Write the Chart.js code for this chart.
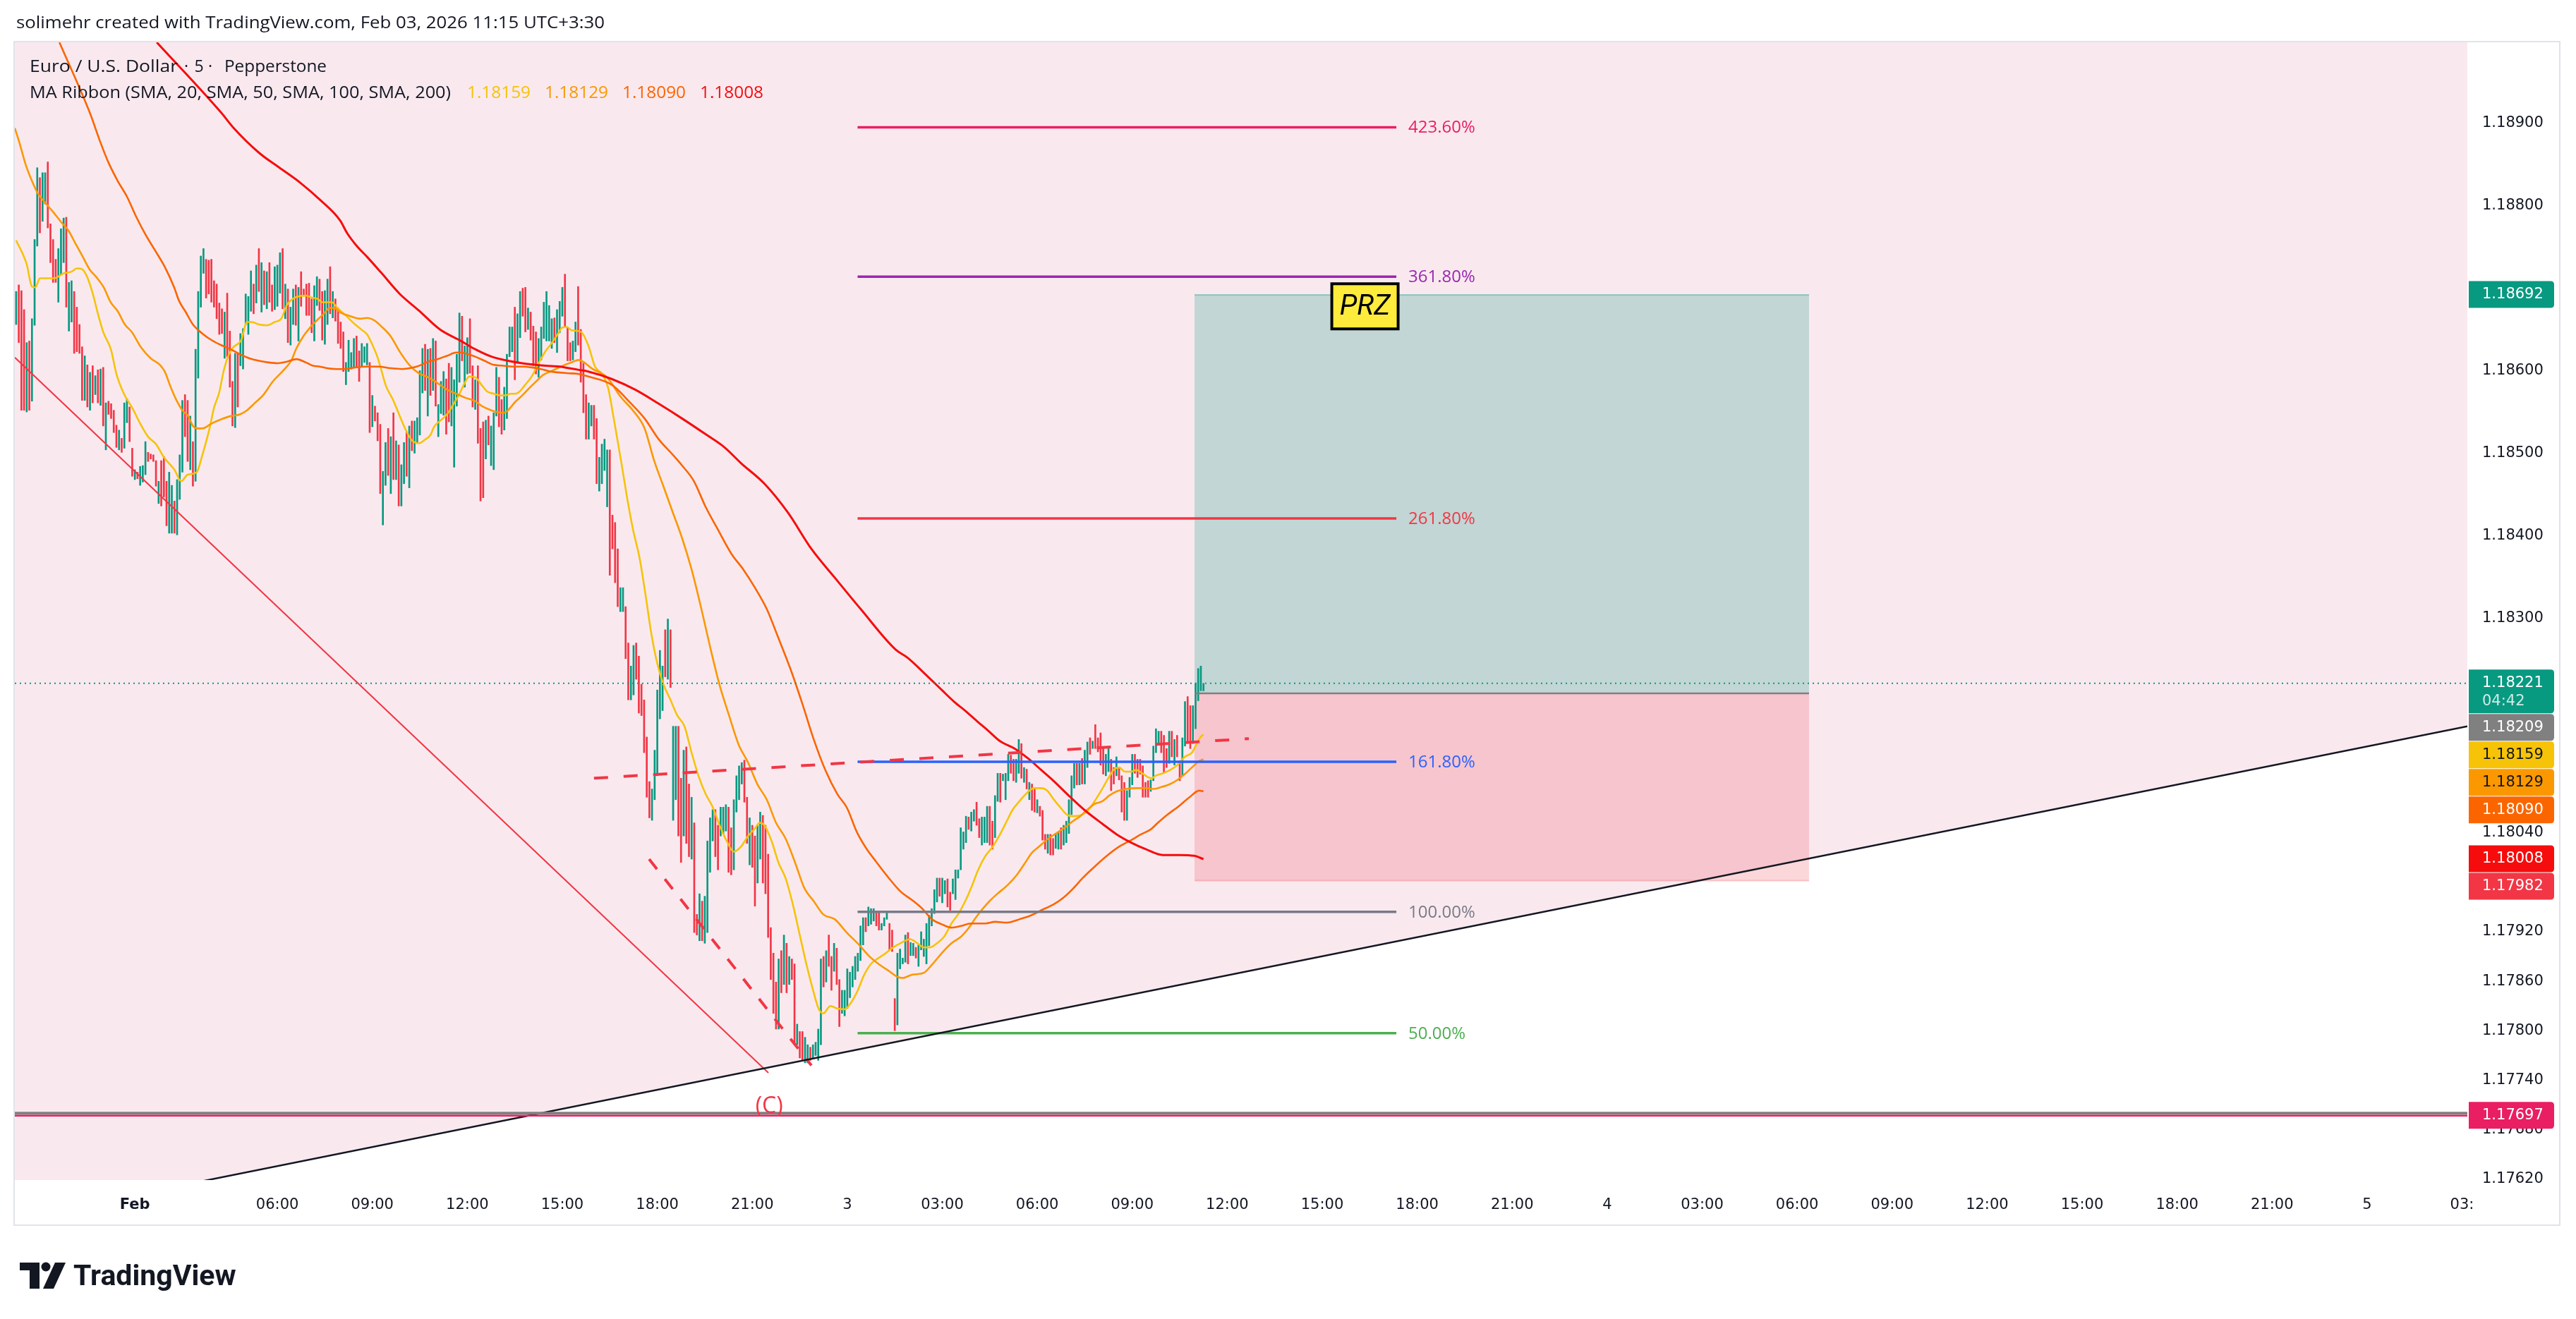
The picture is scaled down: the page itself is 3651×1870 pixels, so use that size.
<!DOCTYPE html>
<html><head><meta charset="utf-8">
<script src="https://cdn.jsdelivr.net/npm/chart.js@4.4.1/dist/chart.umd.min.js"></script>
<style>html,body{margin:0;padding:0;background:#fff;}canvas{display:block;}</style>
</head><body>
<canvas id="c" width="3651" height="1870" style="width:3651px;height:1870px"></canvas>
<script>
// ---------- DATA ----------
const candleStartBar = -45; // bar index of first candle (bar 0 = "Feb" label)
const candleOpen = [
1.18656,1.18704,1.18697,1.18674,1.18550,1.18636,1.18563,1.18655,1.18751,1.18834,
1.18781,1.18802,1.18853,1.18778,1.18759,1.18735,1.18683,1.18716,1.18731,1.18786,
1.18648,1.18659,1.18696,1.18677,1.18656,1.18629,1.18564,1.18607,1.18552,1.18606,
1.18571,1.18601,1.18558,1.18604,1.18504,1.18563,1.18560,1.18552,1.18534,1.18504,
1.18518,1.18506,1.18537,1.18556,1.18506,1.18468,1.18477,1.18461,1.18465,1.18474,
1.18501,1.18499,1.18498,1.18491,1.18439,1.18491,1.18496,1.18466,1.18403,1.18403,
1.18442,1.18401,1.18444,1.18477,1.18571,1.18564,1.18480,1.18514,1.18466,1.18591,
1.18677,1.18718,1.18735,1.18734,1.18735,1.18709,1.18705,1.18682,1.18675,1.18615,
1.18694,1.18648,1.18587,1.18531,1.18621,1.18606,1.18602,1.18656,1.18644,1.18672,
1.18705,1.18682,1.18748,1.18671,1.18721,1.18675,1.18731,1.18704,1.18674,1.18678,
1.18694,1.18748,1.18663,1.18699,1.18631,1.18656,1.18704,1.18636,1.18720,1.18699,
1.18705,
1.18706,1.18687,1.18636,1.18679,1.18711,1.18696,1.18632,1.18656,1.18726,1.18664,
1.18687,1.18676,1.18659,1.18647,1.18583,1.18599,1.18602,1.18605,1.18642,1.18624,
1.18605,1.18610,1.18607,1.18610,1.18532,1.18557,1.18549,1.18535,1.18413,1.18461,
1.18530,1.18451,1.18549,1.18468,1.18510,1.18436,1.18463,1.18526,1.18458,1.18539,
1.18500,1.18513,1.18522,1.18573,1.18632,1.18545,1.18627,1.18576,1.18636,1.18520,
1.18548,1.18546,1.18590,1.18609,1.18533,1.18483,1.18557,1.18586,1.18666,1.18580,
1.18596,1.18663,1.18606,1.18553,1.18606,1.18530,1.18538,1.18493,1.18545,1.18485,
1.18480,1.18545,1.18592,1.18565,1.18528,1.18542,1.18617,1.18623,1.18677,1.18610,
1.18640,1.18700,1.18701,1.18650,1.18671,1.18654,1.18647,1.18592,1.18613,1.18639,
1.18636,1.18636,1.18627,1.18664,1.18622,1.18646,1.18666,1.18717,1.18652,1.18634,
1.18613,1.18623,
1.18702,1.18650,1.18609,1.18571,1.18517,1.18533,1.18558,1.18542,1.18454,1.18463,
1.18479,1.18435,1.18504,1.18425,1.18416,1.18384,1.18308,1.18308,1.18314,1.18270,
1.18201,1.18207,1.18270,1.18254,1.18220,1.18201,1.18156,1.18102,1.18055,1.18080,
1.18109,1.18178,1.18188,1.18286,1.18226,1.18286,1.18055,1.18080,1.18169,1.18106,
1.18036,1.18144,1.18099,1.18008,1.18052,1.17941,1.17909,1.17957,1.17906,1.17919,
1.17992,1.18030,1.18068,1.18049,1.18036,1.18039,1.18042,1.18071,1.18046,1.17995,
1.18065,1.18080,1.18099,1.18128,1.18083,1.18001,1.18049,1.18036,1.17979,1.18008,
1.18061,1.18049,1.18014,1.17925,1.17894,1.17859,1.17802,1.17897,1.17856,1.17906,
1.17856,1.17887,1.17881,1.17783,1.17799,1.17799,1.17761,1.17761,1.17780,1.17767,
1.17770,1.17764,1.17783,1.17890,1.17859,1.17916,1.17890,1.17872,1.17900,1.17862,
1.17821,1.17818,1.17827,1.17840,1.17853,1.17862,1.17872,
1.17885,1.17904,1.17937,1.17927,1.17929,1.17933,1.17943,1.17943,1.17922,1.17927,
1.17935,1.17930,1.17922,1.17839,1.17807,1.17875,1.17881,1.17883,1.17919,1.17891,
1.17891,1.17901,1.17878,1.17898,1.17890,1.17881,1.17903,1.17927,1.17942,1.17956,
1.17985,1.17955,1.17966,1.17984,1.17968,1.17966,1.17959,1.17985,1.17995,1.18020,
1.18028,1.18059,1.18042,1.18054,1.18077,1.18057,1.18025,1.18028,1.18028,1.18072,
1.18054,1.18034,1.18078,1.18112,1.18103,1.18080,1.18103,1.18134,1.18129,1.18101,
1.18112,1.18148,1.18101,1.18117,1.18080,1.18099,1.18093,1.18064,1.18072,1.18067,
1.18038,1.18015,1.18038,1.18033,1.18021,1.18020,1.18046,1.18025,1.18028,1.18039,
1.18062,1.18094,1.18124,1.18098,1.18130,1.18099,1.18119,1.18155,1.18142,1.18171,
1.18155,1.18161,1.18143,1.18109,1.18114,1.18129,1.18119,1.18109,1.18119,1.18109,
1.18101,1.18055,1.18083,1.18098,1.18135,1.18129,1.18129,1.18121,1.18101,1.18103,
1.18090,1.18103,1.18137,1.18147,1.18163,1.18158,1.18142,1.18124,1.18163,1.18122,
1.18158,1.18127,1.18109,1.18145,1.18205,1.18194,1.18148,1.18166,1.18200,1.18212,
1.18212];
const candleClose = [
1.18696,1.18634,1.18552,1.18552,1.18634,1.18552,1.18663,1.18759,1.18846,1.18767,
1.18840,1.18840,1.18773,1.18731,1.18707,1.18707,1.18748,1.18772,1.18785,1.18677,
1.18707,1.18709,1.18621,1.18623,1.18621,1.18564,1.18618,1.18556,1.18598,1.18561,
1.18594,1.18561,1.18602,1.18533,1.18561,1.18547,1.18542,1.18525,1.18507,1.18528,
1.18501,1.18561,1.18566,1.18514,1.18472,1.18480,1.18469,1.18484,1.18485,1.18514,
1.18490,1.18493,1.18490,1.18460,1.18466,1.18436,1.18447,1.18412,1.18477,1.18461,
1.18403,1.18468,1.18498,1.18564,1.18520,1.18490,1.18545,1.18460,1.18626,1.18696,
1.18739,1.18748,1.18688,1.18693,1.18683,1.18677,1.18663,1.18644,1.18645,1.18671,
1.18617,1.18580,1.18533,1.18621,1.18556,1.18645,1.18651,1.18693,1.18690,1.18721,
1.18669,1.18728,1.18696,1.18731,1.18680,1.18720,1.18683,1.18672,1.18726,1.18728,
1.18743,1.18675,1.18705,1.18634,1.18677,1.18699,1.18655,1.18701,1.18678,1.18691,
1.18667,
1.18667,1.18646,1.18703,1.18714,1.18673,1.18637,1.18697,1.18711,1.18669,1.18696,
1.18660,1.18633,1.18627,1.18599,1.18610,1.18637,1.18622,1.18639,1.18605,1.18587,
1.18633,1.18629,1.18633,1.18525,1.18570,1.18539,1.18515,1.18451,1.18478,1.18513,
1.18473,1.18520,1.18468,1.18515,1.18436,1.18486,1.18513,1.18472,1.18533,1.18503,
1.18539,1.18543,1.18600,1.18627,1.18576,1.18626,1.18570,1.18639,1.18557,1.18559,
1.18587,1.18599,1.18523,1.18538,1.18604,1.18589,1.18620,1.18670,1.18612,1.18630,
1.18640,1.18597,1.18556,1.18589,1.18512,1.18442,1.18446,1.18540,1.18510,1.18533,
1.18549,1.18604,1.18532,1.18523,1.18580,1.18620,1.18653,1.18653,1.18589,1.18669,
1.18696,1.18666,1.18647,1.18676,1.18637,1.18606,1.18596,1.18639,1.18653,1.18683,
1.18696,1.18679,1.18663,1.18634,1.18674,1.18684,1.18701,1.18653,1.18612,1.18612,
1.18636,1.18659,
1.18631,1.18586,1.18549,1.18517,1.18561,1.18558,1.18517,1.18463,1.18495,1.18511,
1.18517,1.18504,1.18352,1.18384,1.18343,1.18314,1.18337,1.18337,1.18251,1.18201,
1.18242,1.18267,1.18226,1.18185,1.18182,1.18137,1.18083,1.18058,1.18093,1.18140,
1.18213,1.18261,1.18242,1.18229,1.18299,1.18216,1.18169,1.18169,1.18036,1.18004,
1.18140,1.18027,1.18011,1.18083,1.17919,1.17916,1.17966,1.17909,1.17963,1.18030,
1.18058,1.18068,1.18011,1.17995,1.18071,1.18071,1.18074,1.17992,1.17989,1.18080,
1.18109,1.18121,1.18125,1.18077,1.18027,1.18058,1.17998,1.17951,1.18049,1.18065,
1.17979,1.17966,1.17913,1.17862,1.17821,1.17802,1.17887,1.17846,1.17916,1.17846,
1.17890,1.17862,1.17783,1.17808,1.17767,1.17764,1.17792,1.17783,1.17764,1.17783,
1.17786,1.17802,1.17887,1.17853,1.17897,1.17878,1.17849,1.17906,1.17856,1.17805,
1.17849,1.17849,1.17875,1.17871,1.17878,1.17890,1.17894,
1.17927,1.17937,1.17920,1.17950,1.17948,1.17948,1.17927,1.17922,1.17930,1.17937,
1.17943,1.17898,1.17896,1.17800,1.17894,1.17899,1.17888,1.17916,1.17881,1.17907,
1.17906,1.17888,1.17904,1.17920,1.17911,1.17930,1.17940,1.17948,1.17971,1.17985,
1.17963,1.17985,1.17982,1.17950,1.17946,1.17984,1.17995,1.17995,1.18046,1.18041,
1.18060,1.18044,1.18065,1.18068,1.18049,1.18034,1.18059,1.18059,1.18072,1.18025,
1.18020,1.18085,1.18112,1.18077,1.18111,1.18112,1.18135,1.18112,1.18103,1.18129,
1.18153,1.18106,1.18119,1.18093,1.18101,1.18067,1.18065,1.18080,1.18060,1.18031,
1.18020,1.18038,1.18013,1.18013,1.18039,1.18041,1.18020,1.18049,1.18054,1.18080,
1.18109,1.18124,1.18098,1.18124,1.18099,1.18140,1.18150,1.18135,1.18151,1.18142,
1.18138,1.18122,1.18111,1.18135,1.18142,1.18091,1.18099,1.18132,1.18104,1.18065,
1.18055,1.18091,1.18107,1.18135,1.18112,1.18107,1.18111,1.18083,1.18083,1.18083,
1.18104,1.18145,1.18166,1.18163,1.18137,1.18112,1.18119,1.18163,1.18132,1.18153,
1.18132,1.18103,1.18155,1.18199,1.18150,1.18142,1.18194,1.18221,1.18239,1.18242,
1.18221];

// MA Ribbon (SMA 20 / 50 / 100 / 200) read at bar positions
const sma20Bars = [-45,-41,-39,-37.7,-36,-30.6,-27,-24,-22,-20,-18,-16,-14,-12,-9,-7,-4,-1,2,5,8,11,15,17.6,20,23.4,25.6,28.3,30,32,33.6,35.4,37.2,40.3,42.5,44.3,47,50,53,55.5,57.7,61,65,
66.6,69.3,71,74.6,76.8,79.9,83.5,86.2,88,89.8,92,93.3,95.1,97.8,100.4,102.7,104.9,107.6,109.8,112,113.4,115.6,118.3,120.1,122.7,125,126.7,129,131.6,133.4,136.1,138.8,140.5,142.3,144.1,145.9,147.7,150.4,153,155.7,157.9,160.2,161.9,163.7,165.5,
169.1,171.8,174.4,177.1,179.3,181.5,184.2,186.5,188.7,191.4,193.6,195.8,198,200.3,203,205.6,208.3,211,213.6,216.3,219,221.6,224.3,227,229.7,232.4,235,236.8,238.6,241.3,243.9,246.6,249.3,252,254.7,257.3,259.1,260.9,263.6,266.2,
269,271.2,274,276.3,279,281.8,284.6,287.4,290.1,293.8,296.6,298.9,301.2,304,306.7,309.5,312.2,315,317.3,319.6,322.4,325.1,327.9,330.6,332.5,335.2,338,340.8,343.5,345.8,348.1,350.9,353.2,355.5,358.3,360.1,362,364.3,366.6,368.9,371.2,373,375.3,377.6,379.5,381.8,384.1,385.4,386.8,389.6,392.4,395.1,397.9,400.6,402.5,403.9,405];
const sma20Vals = [1.18758,1.18729,1.18702,1.18701,1.18712,1.18712,1.18718,1.18720,1.18724,1.18723,1.18713,1.18694,1.18669,1.18647,1.18625,1.18596,1.18571,1.18555,1.18536,1.18520,1.18511,1.18495,1.18480,1.18466,1.18474,1.18477,1.18498,1.18530,1.18555,1.18574,1.18599,1.18618,1.18628,1.18637,1.18659,1.18659,1.18656,1.18655,1.18659,1.18663,1.18680,1.18689,1.18691,
1.18689,1.18687,1.18683,1.18683,1.18676,1.18667,1.18656,1.18649,1.18644,1.18633,1.18616,1.18602,1.18582,1.18565,1.18545,1.18528,1.18516,1.18512,1.18516,1.18522,1.18532,1.18539,1.18547,1.18556,1.18570,1.18585,1.18593,1.18592,1.18582,1.18575,1.18572,1.18570,1.18570,1.18572,1.18572,1.18575,1.18582,1.18593,1.18609,1.18624,1.18633,1.18644,1.18652,1.18653,1.18649,
1.18647,1.18631,1.18605,1.18596,1.18580,1.18542,1.18492,1.18447,1.18409,1.18371,1.18327,1.18280,1.18245,1.18220,1.18201,1.18182,1.18169,1.18137,1.18109,1.18087,1.18071,1.18049,1.18030,1.18017,1.18023,1.18036,1.18045,1.18052,1.18049,1.18030,1.18004,1.17985,1.17954,1.17916,1.17878,1.17846,1.17827,1.17821,1.17830,1.17827,
1.17826,1.17833,1.17849,1.17867,1.17881,1.17888,1.17894,1.17901,1.17906,1.17911,1.17906,1.17901,1.17901,1.17906,1.17914,1.17930,1.17942,1.17959,1.17976,1.17995,1.18012,1.18023,1.18038,1.18055,1.18067,1.18078,1.18088,1.18094,1.18094,1.18091,1.18081,1.18070,1.18062,1.18060,1.18061,1.18064,1.18070,1.18081,1.18093,1.18106,1.18117,1.18119,1.18114,1.18114,1.18116,1.18112,1.18107,1.18106,1.18109,1.18112,1.18116,1.18122,1.18132,1.18137,1.18148,1.18156,1.18159];

const sma50Bars = [-45.5,-43.9,-41.3,-39,-36.8,-34.1,-31.4,-27.9,-25.2,-22.5,-19.9,-17.2,-14.5,-11.8,-9.2,-6.5,-3.8,-1.2,2.4,6,9.5,11.3,13.6,15.8,18,20.2,22,23.8,25.6,29.1,32.7,36.3,39.8,42.5,45.2,48.8,52.3,55.9,59.4,61.2,63.9,66.6,69.3,71.9,73.7,75.5,78.2,81.7,85.3,88,90.7,93.3,96.9,100.4,104,107.6,111.1,114.7,118.3,121.8,125.4,129,131.6,134.3,137,139.7,141.4,144.1,146.8,149.5,152.1,154.8,157.5,160.2,162.9,165.5,168.2,173.5,178.9,184.2,188.7,193.2,196.7,200.3,203.9,207.4,211,214.5,218.1,221.6,225.2,228.8,232.4,235.9,239.5,243,246.6,250.2,253.7,257.3,260.9,265.3,269.8,274.5,278.1,281.8,285.5,289.2,291,294.7,298.9,302.1,305.8,309.5,313.1,315.9,318.7,321.4,324.2,326.9,330.6,334.3,337.1,339.8,342.6,346.3,350,352.7,355.5,358.3,361,363.8,366.6,369.3,372.1,375.8,379.5,383.1,385.9,388.7,392.4,395.1,397.9,400.6,403.4,405];
const sma50Vals = [1.18894,1.18878,1.18849,1.18830,1.18815,1.18804,1.18794,1.18780,1.18770,1.18754,1.18739,1.18723,1.18713,1.18701,1.18683,1.18672,1.18656,1.18647,1.18628,1.18615,1.18607,1.18599,1.18580,1.18564,1.18552,1.18545,1.18533,1.18530,1.18530,1.18536,1.18541,1.18545,1.18547,1.18552,1.18560,1.18571,1.18587,1.18599,1.18613,1.18627,1.18642,1.18653,1.18662,1.18670,1.18676,1.18676,1.18670,1.18666,1.18663,1.18664,1.18661,1.18654,1.18642,1.18623,1.18607,1.18597,1.18592,1.18585,1.18577,1.18572,1.18567,1.18563,1.18557,1.18553,1.18550,1.18549,1.18552,1.18562,1.18570,1.18579,1.18587,1.18595,1.18599,1.18603,1.18607,1.18610,1.18613,1.18602,1.18592,1.18568,1.18552,1.18530,1.18492,1.18460,1.18428,1.18397,1.18359,1.18314,1.18264,1.18219,1.18182,1.18147,1.18125,1.18099,1.18080,1.18052,1.18033,1.18004,1.17973,1.17957,1.17941,1.17935,1.17919,1.17904,1.17891,1.17881,1.17873,1.17865,1.17864,1.17868,1.17870,1.17880,1.17894,1.17906,1.17914,1.17924,1.17937,1.17948,1.17958,1.17966,1.17976,1.17989,1.18002,1.18015,1.18023,1.18033,1.18041,1.18047,1.18054,1.18060,1.18068,1.18075,1.18078,1.18085,1.18090,1.18093,1.18094,1.18094,1.18093,1.18095,1.18099,1.18104,1.18111,1.18119,1.18127,1.18129];

const sma100Bars = [-28.6,-17,-13.2,-10.1,-6.5,-3,0.6,4.2,7.8,11.3,14.9,16.7,19.3,22,25.6,29.1,32.7,36.3,39.8,43.4,47,50.6,54.1,57.7,61.2,64.8,67.5,70.1,72.8,76.4,79.1,83.5,88,92.4,96.9,101.3,105.8,108.5,111.1,114.7,118.3,121.8,123.6,126.3,129,132.5,136.1,139.7,143.2,146.8,150.4,153.9,157.5,160.2,163.7,168.2,171.8,180.7,187.8,193.2,198.5,203.9,207.4,211.9,216.3,220.7,226.1,230.6,235,239.5,243.9,248.4,252.9,257.3,261.8,266.2,269.9,273.6,277.2,280.9,285.5,290.1,294.7,298.4,302.1,305.8,309.5,313.1,316.8,322.4,326,330.6,335.2,339.8,343.5,348.1,351.8,355.5,359.2,363.8,368.4,373,377.6,381.3,385,387.7,391.4,396,399.7,403.4,405];
const sma100Vals = [1.18998,1.18912,1.18878,1.18853,1.18830,1.18811,1.18786,1.18764,1.18745,1.18726,1.18701,1.18685,1.18671,1.18656,1.18645,1.18637,1.18631,1.18626,1.18620,1.18615,1.18612,1.18610,1.18609,1.18611,1.18614,1.18610,1.18606,1.18605,1.18603,1.18602,1.18602,1.18604,1.18605,1.18605,1.18603,1.18602,1.18604,1.18607,1.18611,1.18614,1.18618,1.18622,1.18622,1.18620,1.18617,1.18612,1.18607,1.18606,1.18605,1.18605,1.18604,1.18602,1.18599,1.18598,1.18597,1.18596,1.18593,1.18583,1.18561,1.18542,1.18517,1.18498,1.18485,1.18466,1.18435,1.18409,1.18378,1.18359,1.18337,1.18311,1.18276,1.18239,1.18197,1.18153,1.18115,1.18087,1.18070,1.18041,1.18021,1.18005,1.17986,1.17969,1.17958,1.17948,1.17935,1.17929,1.17925,1.17927,1.17930,1.17930,1.17932,1.17931,1.17935,1.17940,1.17946,1.17953,1.17961,1.17972,1.17985,1.17999,1.18012,1.18023,1.18031,1.18038,1.18044,1.18052,1.18062,1.18073,1.18083,1.18091,1.18090];

const sma200Bars = [8.3,32.9,37.2,47.1,54.8,62.6,70.2,77.8,80.4,84.4,88,93.3,100.4,107.6,115.6,123.6,129,135.2,141.4,146.8,155.7,161.1,164.6,168.2,171.8,180.7,189.6,198.5,207.4,216.3,223.5,229.7,238.6,247.5,256.4,265.3,275.1,288.3,292.9,299.3,305.8,310.4,315,319.6,323.3,327.9,333.4,338.9,343.5,348.1,354.6,360.1,366.6,372.1,377.6,383.1,389.6,396,401.5,405];
const sma200Vals = [1.18998,1.18912,1.18895,1.18864,1.18846,1.18828,1.18807,1.18782,1.18767,1.18750,1.18738,1.18719,1.18693,1.18673,1.18650,1.18636,1.18626,1.18617,1.18612,1.18609,1.18606,1.18605,1.18603,1.18601,1.18599,1.18590,1.18577,1.18560,1.18542,1.18523,1.18507,1.18488,1.18463,1.18428,1.18384,1.18349,1.18311,1.18262,1.18252,1.18233,1.18213,1.18199,1.18187,1.18174,1.18164,1.18151,1.18142,1.18129,1.18116,1.18103,1.18083,1.18067,1.18051,1.18038,1.18028,1.18020,1.18013,1.18013,1.18012,1.18008];
const maLast = [1.18159, 1.18129, 1.18090, 1.18008];

// Fibonacci levels
const fibLabels = ['50.00%','100.00%','161.80%','261.80%','361.80%','423.60%'];
const fibPrices = [1.17797, 1.17944, 1.18126, 1.18421, 1.18714, 1.18895];
const fibBars = [273.9, 478.1];

// Long position tool
const posBars = [401.6, 634.5];
const posTarget = 1.18692, posEntry = 1.18209, posStop = 1.17982;

// Drawings
const trendBars = [-45.5, 884];       const trendPrices = [1.17572, 1.18169];
const redLineBars = [-45.5, 240.1];   const redLinePrices = [1.18616, 1.17749];
const waveBars = [194.9, 256.4];      const wavePrices = [1.18008, 1.17758];
const neckBars = [174, 422.2];        const neckPrices = [1.18106, 1.18154];
const lastPrice = 1.18221;
const hLinePink = 1.17697, hLineGray = 1.17700;
const przBar = 466.2, przPrice = 1.18678;
const waveLabelBar = 240.4, waveLabelPrice = 1.17708;

// Axes
const xRange = [-45.5, 884];
const yRange = [1.17619, 1.18998];
const xTickBars = [0,54,90,126,162,198,234,270,306,342,378,414,450,486,522,558,594,630,666,702,738,774,810,846,882];
const xTickLabels = ['Feb','06:00','09:00','12:00','15:00','18:00','21:00','3','03:00','06:00','09:00','12:00','15:00','18:00','21:00','4','03:00','06:00','09:00','12:00','15:00','18:00','21:00','5','03:'];
const yTickValues = [1.189,1.188,1.186,1.185,1.184,1.183,1.1804,1.1792,1.1786,1.178,1.1774,1.1768,1.1762];

// Price-axis badges
const badgePrices = [1.18692, 1.18221, 1.18209, 1.18159, 1.18129, 1.18090, 1.18008, 1.17982, 1.17697];
const badgeExtra  = ['', '04:42', '', '', '', '', '', '', ''];

// ---------- STYLE ----------
const AX_FONT = "'DejaVu Sans', sans-serif";
const TX_FONT = "'Open Sans', Roboto, sans-serif";
const UP = '#089981', DOWN = '#f23645';
const maColors = ['#f6c309', '#fb9800', '#fb6500', '#f60c0c'];
const fibColors = ['#4caf50', '#787b86', '#2962ff', '#f23645', '#9c27b0', '#e91e63'];
const badgeBg = ['#089981','#089981','#808080','#f6c309','#fb9800','#fb6500','#f60c0c','#f23645','#e91e63'];
const badgeFg = ['#ffffff','#ffffff','#ffffff','#131722','#131722','#ffffff','#ffffff','#ffffff','#ffffff'];

const pts = (xs, ys) => xs.map((x, i) => ({x, y: ys[i]}));
const flat = (xs, v) => xs.map(x => ({x, y: v}));
const line = (data, color, width, order, extra) => Object.assign({
  type: 'line', data, borderColor: color, borderWidth: width, pointRadius: 0, fill: false, order, tension: 0
}, extra || {});

const datasets = [];
// 0: pink area above the black trend line
datasets.push({type:'line', data: pts(trendBars, trendPrices), borderWidth: 0, borderColor:'rgba(0,0,0,0)', pointRadius: 0, fill: 'end', backgroundColor: '#f9e9ef', order: 100});
// candles
datasets.push({type:'bar', data: candleOpen.map((o, i) => ({x: candleStartBar + i, y: [o, candleClose[i]]})),
  backgroundColor: candleOpen.map((o, i) => candleClose[i] >= o ? UP : DOWN),
  barThickness: 2, minBarLength: 2, borderWidth: 0, order: 50});
// moving averages
[[sma20Bars, sma20Vals], [sma50Bars, sma50Vals], [sma100Bars, sma100Vals], [sma200Bars, sma200Vals]].forEach((m, i) => {
  datasets.push(line(pts(m[0], m[1]), maColors[i], i === 3 ? 3 : 2.6, 40 - i, {cubicInterpolationMode: 'monotone'}));
});
// red channel line
datasets.push(line(pts(redLineBars, redLinePrices), '#f23645', 2, 30));
// fib levels
fibPrices.forEach((p, i) => datasets.push(line(flat(fibBars, p), fibColors[i], 3.5, 20)));
// dashed red lines
datasets.push(line(pts(waveBars, wavePrices), '#f23645', 4, 15, {borderDash: [18, 18]}));
datasets.push(line(pts(neckBars, neckPrices), '#f23645', 4, 15, {borderDash: [20, 22]}));
// black trend line
datasets.push(line(pts(trendBars, trendPrices), '#131722', 2.5, 10));
// horizontal lines
datasets.push(line(flat(xRange, hLineGray), '#808080', 4, 9));
datasets.push(line(flat(xRange, hLinePink), '#e91e63', 2.5, 8));
// last price dotted line
datasets.push(line(flat(xRange, lastPrice), '#089981', 2, 7, {borderDash: [2, 5]}));

function roundRect(ctx, x, y, w, h, r) {
  ctx.beginPath();
  ctx.moveTo(x, y); ctx.lineTo(x + w - r, y); ctx.quadraticCurveTo(x + w, y, x + w, y + r);
  ctx.lineTo(x + w, y + h - r); ctx.quadraticCurveTo(x + w, y + h, x + w - r, y + h);
  ctx.lineTo(x, y + h); ctx.closePath();
}
// draw text stretched horizontally to a given width (reference font is wider than the installed ones)
function fitText(ctx, text, x, y, w) {
  const m = ctx.measureText(text).width;
  ctx.save(); ctx.translate(x, y); ctx.scale(w / m, 1); ctx.fillText(text, 0, 0); ctx.restore();
}

const overlay = {
  id: 'overlay',
  afterDatasetDraw(chart, args) {
    if (args.index !== 0) return;
    const {ctx, chartArea: ca, scales: {x, y}} = chart;
    ctx.save();
    ctx.beginPath(); ctx.rect(ca.left, ca.top, ca.width, ca.height); ctx.clip();
    const x0 = x.getPixelForValue(posBars[0]), x1 = x.getPixelForValue(posBars[1]);
    const yT = y.getPixelForValue(posTarget), yE = y.getPixelForValue(posEntry), yS = y.getPixelForValue(posStop);
    ctx.fillStyle = 'rgba(8,153,129,0.23)'; ctx.fillRect(x0, yT, x1 - x0, yE - yT);
    ctx.fillStyle = 'rgba(242,54,69,0.2)'; ctx.fillRect(x0, yE, x1 - x0, yS - yE);
    ctx.strokeStyle = 'rgba(8,153,129,0.35)'; ctx.lineWidth = 2;
    ctx.beginPath(); ctx.moveTo(x0, yT); ctx.lineTo(x1, yT); ctx.stroke();
    ctx.strokeStyle = 'rgba(242,54,69,0.25)';
    ctx.beginPath(); ctx.moveTo(x0, yS); ctx.lineTo(x1, yS); ctx.stroke();
    ctx.restore();
  },
  afterDatasetsDraw(chart) {
    const {ctx, scales: {x, y}} = chart;
    ctx.save();
    // entry line of position
    const x0 = x.getPixelForValue(posBars[0]), x1 = x.getPixelForValue(posBars[1]);
    const yE = y.getPixelForValue(posEntry);
    ctx.strokeStyle = '#808080'; ctx.lineWidth = 2.5;
    ctx.beginPath(); ctx.moveTo(x0, yE); ctx.lineTo(x1, yE); ctx.stroke();
    // fib labels
    ctx.font = `24px ${TX_FONT}`; ctx.textBaseline = 'middle'; ctx.textAlign = 'left';
    const fx = x.getPixelForValue(fibBars[1]) + 17;
    fibPrices.forEach((p, i) => { ctx.fillStyle = fibColors[i]; ctx.fillText(fibLabels[i], fx, y.getPixelForValue(p) + 1); });
    // PRZ label
    const px = x.getPixelForValue(przBar), py = y.getPixelForValue(przPrice);
    ctx.fillStyle = '#ffeb3b'; ctx.fillRect(px - 47, py - 32, 94, 64);
    ctx.strokeStyle = '#000'; ctx.lineWidth = 4; ctx.strokeRect(px - 47, py - 32, 94, 64);
    ctx.fillStyle = '#000'; ctx.font = `italic 40px Roboto, sans-serif`; ctx.textAlign = 'center';
    ctx.fillText('PRZ', px, py + 2);
    // (C) label
    ctx.fillStyle = '#f23645'; ctx.font = `32px ${TX_FONT}`;
    ctx.fillText('(C)', x.getPixelForValue(waveLabelBar), y.getPixelForValue(waveLabelPrice));
    ctx.restore();
  },
  afterDraw(chart) {
    const {ctx, scales: {y}} = chart;
    ctx.save();
    // frame
    ctx.strokeStyle = '#e0e3eb'; ctx.lineWidth = 2;
    ctx.strokeRect(20, 59, 3608, 1678);
    // header
    ctx.fillStyle = '#131722'; ctx.textBaseline = 'middle'; ctx.textAlign = 'left';
    ctx.font = `24px ${TX_FONT}`;
    fitText(ctx, 'solimehr created with TradingView.com, Feb 03, 2026 11:15 UTC+3:30', 23, 33, 834);
    // legend, line 1 (pieces separated like the TradingView legend)
    ctx.font = `23px ${TX_FONT}`;
    fitText(ctx, 'Euro / U.S. Dollar', 42, 95, 210);
    ctx.textAlign = 'center';
    ctx.fillText('·', 264, 95);
    ctx.fillText('5', 282, 95);
    ctx.fillText('·', 298, 95);
    ctx.textAlign = 'left';
    fitText(ctx, 'Pepperstone', 318, 95, 145);
    // legend, line 2
    fitText(ctx, 'MA Ribbon (SMA, 20, SMA, 50, SMA, 100, SMA, 200)', 42, 132, 597);
    maLast.forEach((v, i) => {
      ctx.fillStyle = maColors[i];
      fitText(ctx, v.toFixed(5), 662 + i * 110, 132, 90);
    });
    // price-axis badges
    ctx.fillStyle = '#131722';
    ctx.font = `21px ${AX_FONT}`;
    const h = 39;
    let prevBottom = -1e9;
    badgePrices.forEach((p, i) => {
      const yy = y.getPixelForValue(p);
      const boxH = badgeExtra[i] ? h + 24 : h;
      let top = yy - h / 2;
      if (top < prevBottom) top = prevBottom;
      ctx.fillStyle = badgeBg[i];
      roundRect(ctx, 3499, top, 121, boxH - 1, 5); ctx.fill();
      ctx.fillStyle = badgeFg[i];
      ctx.fillText(p.toFixed(5), 3518, top + h / 2);
      if (badgeExtra[i]) { ctx.globalAlpha = 0.8; ctx.fillText(badgeExtra[i], 3518, top + h / 2 + 26); ctx.globalAlpha = 1; }
      prevBottom = top + boxH;
    });
    // TradingView logo
    ctx.fillStyle = '#131722';
    ctx.fillRect(28, 1790, 28, 11);
    ctx.fillRect(42, 1790, 14, 37);
    ctx.beginPath(); ctx.arc(65, 1796, 6.5, 0, Math.PI * 2); ctx.fill();
    ctx.beginPath(); ctx.moveTo(78, 1790); ctx.lineTo(93, 1790); ctx.lineTo(76, 1827); ctx.lineTo(61, 1827); ctx.closePath(); ctx.fill();
    ctx.font = `bold 41px Roboto, sans-serif`; ctx.textBaseline = 'alphabetic';
    ctx.fillText('TradingView', 104, 1822);
    ctx.restore();
  }
};

new Chart(document.getElementById('c'), {
  type: 'line',
  data: { datasets },
  options: {
    responsive: false, animation: false, devicePixelRatio: 1,
    layout: { padding: { left: 21, top: 60, right: 23, bottom: 133 } },
    plugins: { legend: { display: false }, tooltip: { enabled: false } },
    scales: {
      x: {
        type: 'linear', min: xRange[0], max: xRange[1], offset: false,
        grid: { display: false, drawTicks: false }, border: { display: false },
        ticks: {
          autoSkip: false, maxRotation: 0, minRotation: 0, padding: 23, color: '#131722',
          font: (c) => ({ family: AX_FONT, size: 21, weight: xTickLabels[c.index] === 'Feb' ? 'bold' : 'normal' }),
          callback: (v, i) => xTickLabels[i]
        },
        afterBuildTicks: (s) => { s.ticks = xTickBars.map(v => ({ value: v })); },
        afterFit: (s) => { s.height = 64; }
      },
      y: {
        position: 'right', min: yRange[0], max: yRange[1],
        grid: { display: false, drawTicks: false }, border: { display: false },
        ticks: { autoSkip: false, padding: 21, color: '#131722', font: { family: AX_FONT, size: 21 },
          callback: (v) => Number(v).toFixed(5) },
        afterBuildTicks: (s) => { s.ticks = yTickValues.map(v => ({ value: v })); },
        afterFit: (s) => { s.width = 131; }
      }
    }
  },
  plugins: [overlay]
});
</script>
</body></html>
